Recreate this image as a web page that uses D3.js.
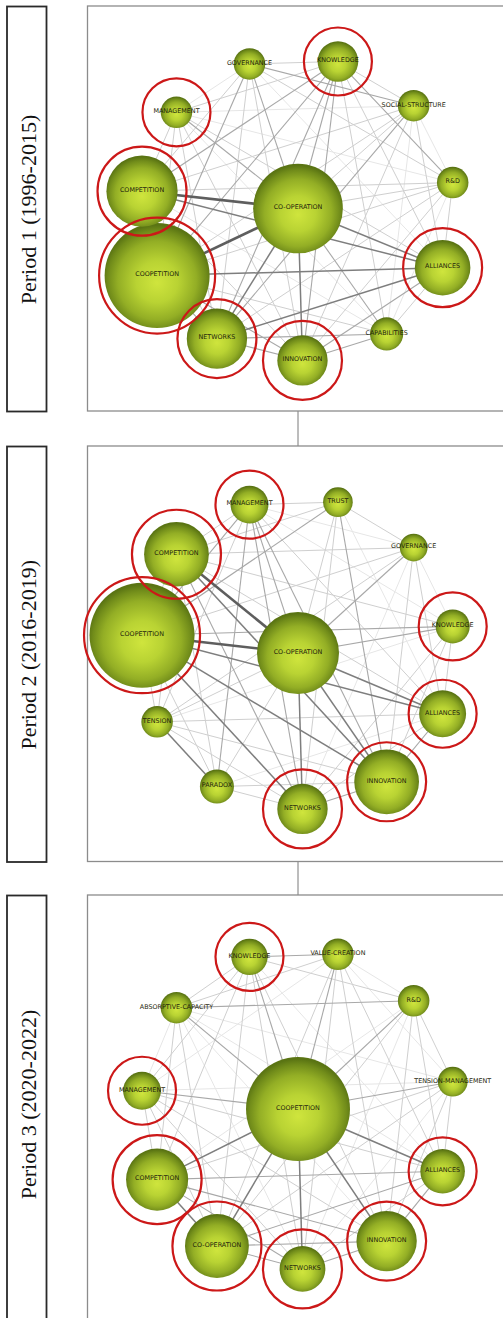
<!DOCTYPE html>
<html>
<head>
<meta charset="utf-8">
<script src="https://cdn.jsdelivr.net/npm/d3@7"></script>
<style>
  html, body { margin: 0; padding: 0; background: #ffffff; }
  svg { display: block; }
</style>
</head>
<body>
<svg id="chart" width="503" height="1318"></svg>
<script>
// ---------------- DATA ----------------
const periodLabels = ["Period 1 (1996-2015)", "Period 2 (2016-2019)", "Period 3 (2020-2022)"];

// Period 1
const p1Center = "CO-OPERATION";
const p1CenterValue = 73;
const p1Ring = ["GOVERNANCE","KNOWLEDGE","SOCIAL-STRUCTURE","R&D","ALLIANCES","CAPABILITIES","INNOVATION","NETWORKS","COOPETITION","COMPETITION","MANAGEMENT"];
const p1Values = [9, 15, 9, 9, 28, 10, 23, 33, 100, 46, 9];
const p1Highlight = [["KNOWLEDGE",1],["MANAGEMENT",1],["COMPETITION",3],["COOPETITION",4],["ALLIANCES",2],["NETWORKS",2],["INNOVATION",2]];
const p1Edges = [
  ["CO-OPERATION","COMPETITION",5],["CO-OPERATION","COOPETITION",5],["CO-OPERATION","ALLIANCES",4],["CO-OPERATION","NETWORKS",4],
  ["CO-OPERATION","INNOVATION",4],["COMPETITION","ALLIANCES",4],["NETWORKS","ALLIANCES",4],["COOPETITION","ALLIANCES",4],
  ["KNOWLEDGE","CO-OPERATION",3],["KNOWLEDGE","COMPETITION",3],["KNOWLEDGE","R&D",3],["KNOWLEDGE","COOPETITION",3],
  ["KNOWLEDGE","NETWORKS",3],["KNOWLEDGE","INNOVATION",3],["KNOWLEDGE","ALLIANCES",2],["KNOWLEDGE","CAPABILITIES",2],
  ["GOVERNANCE","CO-OPERATION",3],["GOVERNANCE","COOPETITION",3],["GOVERNANCE","SOCIAL-STRUCTURE",3],["GOVERNANCE","KNOWLEDGE",2],
  ["GOVERNANCE","R&D",2],["GOVERNANCE","INNOVATION",2],["GOVERNANCE","NETWORKS",2],["GOVERNANCE","MANAGEMENT",1],
  ["GOVERNANCE","COMPETITION",2],["GOVERNANCE","ALLIANCES",1],
  ["MANAGEMENT","CO-OPERATION",3],["MANAGEMENT","COMPETITION",2],["MANAGEMENT","COOPETITION",2],["MANAGEMENT","NETWORKS",2],
  ["MANAGEMENT","INNOVATION",2],["MANAGEMENT","ALLIANCES",2],["MANAGEMENT","KNOWLEDGE",2],["MANAGEMENT","SOCIAL-STRUCTURE",1],
  ["MANAGEMENT","R&D",1],["MANAGEMENT","CAPABILITIES",1],
  ["SOCIAL-STRUCTURE","CO-OPERATION",2],["SOCIAL-STRUCTURE","COMPETITION",2],["SOCIAL-STRUCTURE","COOPETITION",2],
  ["SOCIAL-STRUCTURE","NETWORKS",3],["SOCIAL-STRUCTURE","INNOVATION",2],["SOCIAL-STRUCTURE","ALLIANCES",2],
  ["SOCIAL-STRUCTURE","KNOWLEDGE",2],["SOCIAL-STRUCTURE","R&D",1],["SOCIAL-STRUCTURE","CAPABILITIES",1],
  ["R&D","CO-OPERATION",2],["R&D","COMPETITION",2],["R&D","COOPETITION",2],["R&D","ALLIANCES",2],["R&D","NETWORKS",2],
  ["R&D","INNOVATION",2],["R&D","CAPABILITIES",1],
  ["CO-OPERATION","CAPABILITIES",3],["NETWORKS","INNOVATION",3],["INNOVATION","CAPABILITIES",3],["INNOVATION","ALLIANCES",3],
  ["NETWORKS","CAPABILITIES",3],["CAPABILITIES","ALLIANCES",2],
  ["COOPETITION","NETWORKS",3],["COOPETITION","INNOVATION",3],["COOPETITION","COMPETITION",2],["COOPETITION","CAPABILITIES",2],
  ["COMPETITION","NETWORKS",2],["COMPETITION","INNOVATION",2],["COMPETITION","CAPABILITIES",1]
];

// Period 2
const p2Center = "CO-OPERATION";
const p2CenterValue = 61;
const p2Ring = ["MANAGEMENT","TRUST","GOVERNANCE","KNOWLEDGE","ALLIANCES","INNOVATION","NETWORKS","PARADOX","TENSION","COOPETITION","COMPETITION"];
const p2Values = [13, 8, 7, 10.5, 20, 38, 23, 10.5, 9, 100, 38];
const p2Highlight = [["MANAGEMENT",1],["COMPETITION",3],["COOPETITION",4],["KNOWLEDGE",1],["ALLIANCES",1],["INNOVATION",2],["NETWORKS",2]];
const p2Edges = [
  ["CO-OPERATION","COMPETITION",5],["CO-OPERATION","COOPETITION",5],["COMPETITION","INNOVATION",4],["COOPETITION","INNOVATION",4],
  ["COOPETITION","NETWORKS",4],["CO-OPERATION","ALLIANCES",4],["COOPETITION","ALLIANCES",4],["CO-OPERATION","INNOVATION",4],
  ["CO-OPERATION","NETWORKS",4],["TENSION","PARADOX",4],
  ["MANAGEMENT","NETWORKS",3],["MANAGEMENT","CO-OPERATION",3],["MANAGEMENT","COOPETITION",3],["MANAGEMENT","PARADOX",3],
  ["MANAGEMENT","COMPETITION",2],["MANAGEMENT","INNOVATION",3],["MANAGEMENT","TRUST",2],["MANAGEMENT","TENSION",2],
  ["MANAGEMENT","ALLIANCES",2],["MANAGEMENT","KNOWLEDGE",1],["MANAGEMENT","GOVERNANCE",1],
  ["TRUST","INNOVATION",3],["TRUST","COOPETITION",3],["TRUST","NETWORKS",2],["TRUST","CO-OPERATION",2],["TRUST","GOVERNANCE",2],
  ["TRUST","COMPETITION",2],["TRUST","ALLIANCES",1],
  ["GOVERNANCE","CO-OPERATION",3],["GOVERNANCE","COMPETITION",2],["GOVERNANCE","COOPETITION",2],["GOVERNANCE","TENSION",2],
  ["GOVERNANCE","INNOVATION",2],["GOVERNANCE","ALLIANCES",2],["GOVERNANCE","KNOWLEDGE",1],["GOVERNANCE","NETWORKS",1],
  ["KNOWLEDGE","CO-OPERATION",3],["KNOWLEDGE","COOPETITION",3],["KNOWLEDGE","COMPETITION",2],["KNOWLEDGE","ALLIANCES",2],
  ["KNOWLEDGE","INNOVATION",2],["KNOWLEDGE","NETWORKS",2],["KNOWLEDGE","TENSION",1],
  ["NETWORKS","INNOVATION",3],["INNOVATION","ALLIANCES",3],["NETWORKS","ALLIANCES",2],["PARADOX","NETWORKS",2],
  ["PARADOX","INNOVATION",2],["PARADOX","ALLIANCES",1],
  ["TENSION","CO-OPERATION",2],["TENSION","COOPETITION",2],["TENSION","COMPETITION",2],["TENSION","ALLIANCES",2],
  ["TENSION","INNOVATION",2],["TENSION","NETWORKS",2],
  ["PARADOX","COOPETITION",2],["PARADOX","COMPETITION",2],["PARADOX","CO-OPERATION",2],
  ["COOPETITION","COMPETITION",2],["COMPETITION","NETWORKS",3],["COMPETITION","ALLIANCES",2]
];

// Period 3
const p3Center = "COOPETITION";
const p3CenterValue = 98;
const p3Ring = ["KNOWLEDGE","VALUE-CREATION","R&D","TENSION-MANAGEMENT","ALLIANCES","INNOVATION","NETWORKS","CO-OPERATION","COMPETITION","MANAGEMENT","ABSORPTIVE-CAPACITY"];
const p3Values = [12, 9, 9, 8, 18, 33, 19, 37, 35, 13, 9];
const p3Highlight = [["KNOWLEDGE",1],["MANAGEMENT",1],["COMPETITION",3],["CO-OPERATION",3],["NETWORKS",2],["INNOVATION",2],["ALLIANCES",1]];
const p3Edges = [
  ["COOPETITION","CO-OPERATION",4],["COOPETITION","COMPETITION",4],["COOPETITION","NETWORKS",4],["COOPETITION","INNOVATION",4],
  ["COOPETITION","ALLIANCES",4],["COMPETITION","CO-OPERATION",4],
  ["COOPETITION","MANAGEMENT",3],["COOPETITION","KNOWLEDGE",3],["COOPETITION","ABSORPTIVE-CAPACITY",3],["COOPETITION","VALUE-CREATION",3],
  ["COOPETITION","R&D",3],["COOPETITION","TENSION-MANAGEMENT",3],
  ["COMPETITION","ALLIANCES",3],["COMPETITION","INNOVATION",3],["COMPETITION","NETWORKS",3],["CO-OPERATION","ALLIANCES",3],
  ["CO-OPERATION","INNOVATION",3],["CO-OPERATION","NETWORKS",3],["NETWORKS","INNOVATION",3],["INNOVATION","ALLIANCES",3],
  ["NETWORKS","ALLIANCES",2],
  ["KNOWLEDGE","VALUE-CREATION",3],["ABSORPTIVE-CAPACITY","R&D",3],["KNOWLEDGE","ABSORPTIVE-CAPACITY",2],["KNOWLEDGE","INNOVATION",2],
  ["KNOWLEDGE","CO-OPERATION",2],["KNOWLEDGE","COMPETITION",2],["KNOWLEDGE","MANAGEMENT",2],["KNOWLEDGE","R&D",2],
  ["KNOWLEDGE","NETWORKS",2],["KNOWLEDGE","ALLIANCES",1],
  ["VALUE-CREATION","NETWORKS",2],["VALUE-CREATION","ALLIANCES",2],["VALUE-CREATION","INNOVATION",2],["VALUE-CREATION","CO-OPERATION",2],
  ["VALUE-CREATION","ABSORPTIVE-CAPACITY",2],["VALUE-CREATION","MANAGEMENT",1],["VALUE-CREATION","R&D",1],["VALUE-CREATION","TENSION-MANAGEMENT",1],
  ["R&D","INNOVATION",2],["R&D","CO-OPERATION",2],["R&D","ALLIANCES",2],["R&D","TENSION-MANAGEMENT",2],["R&D","NETWORKS",1],["R&D","COMPETITION",1],
  ["TENSION-MANAGEMENT","ALLIANCES",2],["TENSION-MANAGEMENT","INNOVATION",2],["TENSION-MANAGEMENT","CO-OPERATION",2],
  ["TENSION-MANAGEMENT","COMPETITION",2],["TENSION-MANAGEMENT","NETWORKS",1],["TENSION-MANAGEMENT","MANAGEMENT",1],
  ["MANAGEMENT","NETWORKS",2],["MANAGEMENT","INNOVATION",2],["MANAGEMENT","CO-OPERATION",2],["MANAGEMENT","COMPETITION",2],
  ["MANAGEMENT","ALLIANCES",2],["MANAGEMENT","ABSORPTIVE-CAPACITY",1],
  ["ABSORPTIVE-CAPACITY","CO-OPERATION",2],["ABSORPTIVE-CAPACITY","COMPETITION",2],["ABSORPTIVE-CAPACITY","NETWORKS",1],
  ["ABSORPTIVE-CAPACITY","INNOVATION",1],["ABSORPTIVE-CAPACITY","ALLIANCES",1],["ABSORPTIVE-CAPACITY","TENSION-MANAGEMENT",1]
];

// ---------------- LAYOUT / STYLE ----------------
const periods = [
  { label: periodLabels[0], center: p1Center, centerValue: p1CenterValue, ring: p1Ring, values: p1Values, highlight: p1Highlight, edges: p1Edges,
    top: 6, bottom: 411, cy: 208.5, ry: 152 },
  { label: periodLabels[1], center: p2Center, centerValue: p2CenterValue, ring: p2Ring, values: p2Values, highlight: p2Highlight, edges: p2Edges,
    top: 446, bottom: 861.5, cy: 653, ry: 156 },
  { label: periodLabels[2], center: p3Center, centerValue: p3CenterValue, ring: p3Ring, values: p3Values, highlight: p3Highlight, edges: p3Edges,
    top: 895, bottom: 1340, cy: 1109, ry: 160 }
];

const cx = 298, rx = 157;
const svg = d3.select("#chart");

// gradient for spheres
const defs = svg.append("defs");
const grad = defs.append("radialGradient").attr("id", "sphere")
  .attr("cx", "50%").attr("cy", "54%").attr("r", "52%").attr("fx", "50%").attr("fy", "57%");
grad.append("stop").attr("offset", "0%").attr("stop-color", "#cfe53d");
grad.append("stop").attr("offset", "38%").attr("stop-color", "#b9d333");
grad.append("stop").attr("offset", "72%").attr("stop-color", "#93ae25");
grad.append("stop").attr("offset", "90%").attr("stop-color", "#718c1a");
grad.append("stop").attr("offset", "100%").attr("stop-color", "#5a7413");

const rScale = d3.scaleSqrt().domain([0, 100]).range([0, 52.5]);
const angle = d3.scaleLinear().domain([0, 11]).range([-18 * Math.PI / 180, 342 * Math.PI / 180]);
const edgeColor = d3.scaleOrdinal().domain([1,2,3,4,5]).range(["#e6e6e6","#cfcfcf","#a8a8a8","#7e7e7e","#5e5e5e"]);
const edgeWidth = d3.scaleOrdinal().domain([1,2,3,4,5]).range([1, 1, 1.1, 1.5, 2.6]);
const ringRadius = d3.scaleOrdinal().domain([1,2,3,4]).range([34, 39.5, 44.5, 58]);

// connectors
for (let i = 0; i < periods.length - 1; i++) {
  svg.append("line")
    .attr("x1", cx).attr("x2", cx)
    .attr("y1", periods[i].bottom).attr("y2", periods[i + 1].top)
    .attr("stroke", "#7a7a7a").attr("stroke-width", 1);
}

periods.forEach(p => {
  const g = svg.append("g");

  // left label box
  g.append("rect")
    .attr("x", 7).attr("y", p.top + 0.5)
    .attr("width", 39.5).attr("height", p.bottom - p.top)
    .attr("fill", "#fff").attr("stroke", "#2a2a2a").attr("stroke-width", 1.8);
  g.append("text")
    .attr("transform", `translate(35.5,${(p.top + Math.min(p.bottom, p.top + 417)) / 2 + 1}) rotate(-90)`)
    .attr("text-anchor", "middle")
    .attr("font-family", "'Liberation Serif', 'Times New Roman', serif")
    .attr("font-size", 22)
    .attr("fill", "#111")
    .text(p.label);

  // right network frame
  g.append("rect")
    .attr("x", 87.5).attr("y", p.top)
    .attr("width", 440).attr("height", p.bottom - p.top)
    .attr("fill", "#fff").attr("stroke", "#8c8c8c").attr("stroke-width", 1.3);

  // nodes
  const nodes = [{ name: p.center, value: p.centerValue, x: cx, y: p.cy }];
  p.ring.forEach((name, k) => {
    const a = angle(k);
    nodes.push({ name, value: p.values[k], x: cx + rx * Math.sin(a), y: p.cy - p.ry * Math.cos(a) });
  });
  const byName = new Map(nodes.map(n => [n.name, n]));

  const edges = p.edges.map(([a, b, w]) => ({ s: byName.get(a), t: byName.get(b), w }))
    .sort((a, b) => a.w - b.w);

  g.append("g").selectAll("line").data(edges).join("line")
    .attr("x1", d => d.s.x).attr("y1", d => d.s.y)
    .attr("x2", d => d.t.x).attr("y2", d => d.t.y)
    .attr("stroke", d => edgeColor(d.w))
    .attr("stroke-width", d => edgeWidth(d.w));

  const ng = g.append("g").selectAll("g").data(nodes).join("g")
    .attr("transform", d => `translate(${d.x},${d.y})`);
  ng.append("circle")
    .attr("r", d => rScale(d.value))
    .attr("fill", "url(#sphere)");
  ng.append("text")
    .attr("y", -1.2)
    .attr("text-anchor", "middle")
    .attr("dominant-baseline", "central")
    .attr("font-family", "'DejaVu Sans', Verdana, sans-serif")
    .attr("font-size", 6.4)
    .attr("fill", "#1f1f0c")
    .text(d => d.name);

  // red highlight rings
  g.append("g").selectAll("circle").data(p.highlight).join("circle")
    .attr("cx", d => byName.get(d[0]).x)
    .attr("cy", d => byName.get(d[0]).y)
    .attr("r", d => ringRadius(d[1]))
    .attr("fill", "none")
    .attr("stroke", "#cc1818")
    .attr("stroke-width", 2.2);
});
</script>
</body>
</html>
